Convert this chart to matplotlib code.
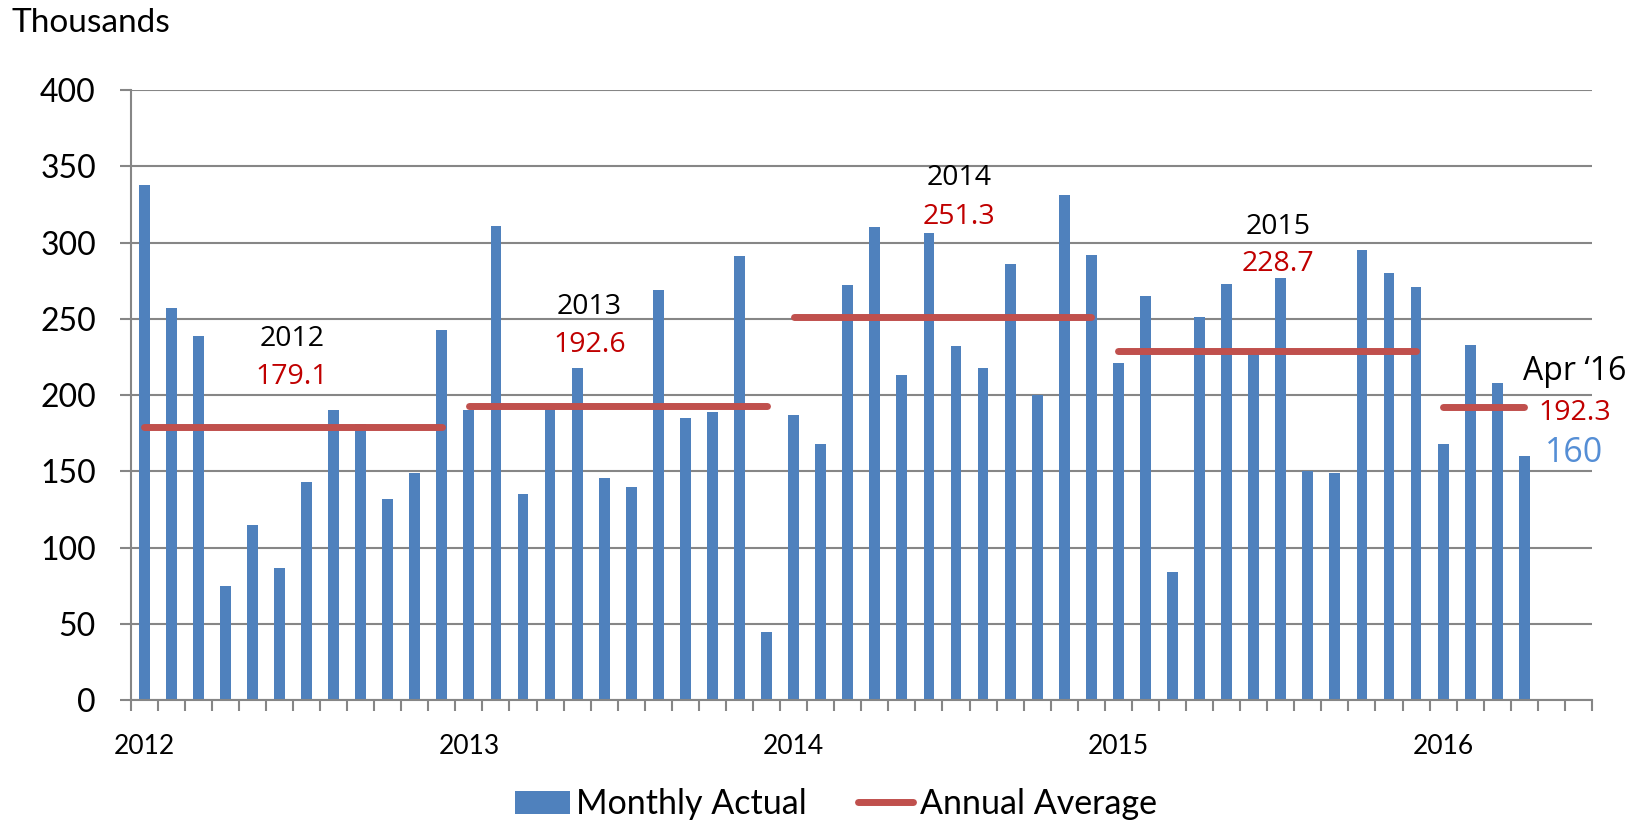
#!/usr/bin/env python3
# -*- coding: utf-8 -*-
"""
Monthly job gains (thousands) with annual averages, Jan 2012 - Apr 2016.
"""

import numpy as np
import matplotlib
matplotlib.use('Agg')
import matplotlib.pyplot as plt
from matplotlib.patches import Patch
from matplotlib.lines import Line2D

# monthly values, one list per year (thousands)
monthly_2012 = [338, 257, 239, 75, 115, 87, 143, 190, 181, 132, 149, 243]
monthly_2013 = [190, 311, 135, 192, 218, 146, 140, 269, 185, 189, 291, 45]
monthly_2014 = [187, 168, 272, 310, 213, 306, 232, 218, 286, 200, 331, 292]
monthly_2015 = [221, 265, 84, 251, 273, 228, 277, 150, 149, 295, 280, 271]
monthly_2016 = [168, 233, 208, 160]

years = ['2012', '2013', '2014', '2015', '2016']
annual_avg = [179.1, 192.6, 251.3, 228.7, 192.3]
n_months_axis = 54  # axis runs through Jun 2016

# y ticks
y_ticks = [0, 50, 100, 150, 200, 250, 300, 350, 400]

# colours
bar_blue = '#4F81BD'
line_red = '#C0504D'
text_red = '#C00000'
grid_gray = '#868686'

monthly_by_year = [monthly_2012, monthly_2013, monthly_2014,
                   monthly_2015, monthly_2016]
monthly = np.concatenate(monthly_by_year)
x = np.arange(len(monthly)) + 0.5

fig = plt.figure(figsize=(16.39, 8.25), dpi=100)
ax = fig.add_axes([0.0797, 0.151, 0.8916, 0.740])

# bars
ax.bar(x, monthly, width=0.4, color=bar_blue, zorder=2)

# annual average lines (from first to last bar of each year)
start = 0
for vals, avg in zip(monthly_by_year, annual_avg):
    x0 = start + 0.5
    x1 = start + len(vals) - 0.5
    ax.plot([x0, x1], [avg, avg], color=line_red, lw=5,
            solid_capstyle='round', zorder=3)
    start += len(vals)

# axes limits and grid
ax.set_xlim(0, n_months_axis)
ax.set_ylim(0, 400)
ax.set_yticks(y_ticks)
ax.yaxis.grid(True, color=grid_gray, lw=1.5, zorder=0)
ax.set_axisbelow(True)
for s in ['top', 'right']:
    ax.spines[s].set_visible(False)
for s in ['left', 'bottom']:
    ax.spines[s].set_color(grid_gray)
    ax.spines[s].set_linewidth(1.5)

ax.tick_params(axis='y', length=8, width=1.5, color=grid_gray, pad=17,
               labelsize=23)
for lbl in ax.get_yticklabels():
    lbl.set_family('Lato')

# year labels under the first month of each year, month ticks as minor
ax.set_xticks([12 * i + 0.5 for i in range(len(years))])
ax.set_xticklabels(years, family='Lato', fontsize=19)
ax.set_xticks(np.arange(0, n_months_axis + 1), minor=True)
ax.tick_params(axis='x', which='major', length=0, pad=24)
ax.tick_params(axis='x', which='minor', length=8, width=1.5,
               color=grid_gray)

# annotations
ann_font = 'Open Sans'
label_pos = [(5.95, 237), (16.95, 258), (30.6, 342), (42.4, 310)]
avg_pos = [(5.97, 212), (16.95, 233), (30.6, 317), (42.4, 286)]
for i in range(4):
    ax.text(label_pos[i][0], label_pos[i][1], years[i], ha='center',
            va='center', fontsize=20.5, family=ann_font, color='black')
    ax.text(avg_pos[i][0], avg_pos[i][1], '%.1f' % annual_avg[i],
            ha='center', va='center', fontsize=20.5, family=ann_font,
            color=text_red)

ax.text(53.35, 215.5, 'Apr \u201816', ha='center', va='center', fontsize=23,
        family=ann_font, color='black', clip_on=False)
ax.text(53.35, 188.5, '%.1f' % annual_avg[4], ha='center', va='center',
        fontsize=20.5, family=ann_font, color=text_red, clip_on=False)
ax.text(53.35, 162, '%d' % monthly_2016[-1], ha='center', va='center',
        fontsize=24.5, family=ann_font, color='#558ED5', clip_on=False)

# units label
fig.text(0.007, 0.972, 'Thousands', ha='left', va='center', fontsize=24,
         family='Lato')

# legend
handles = [Patch(facecolor=bar_blue, edgecolor='none'),
           Line2D([0], [0], color=line_red, lw=5, solid_capstyle='round')]
fig.legend(handles, ['Monthly Actual', 'Annual Average'], loc='center',
           bbox_to_anchor=(0.51, 0.025), ncol=2, frameon=False,
           prop={'family': 'Lato', 'size': 24.5}, handlelength=1.6,
           handletextpad=0.2, columnspacing=1.5)

fig.savefig('out.png', dpi=100)
